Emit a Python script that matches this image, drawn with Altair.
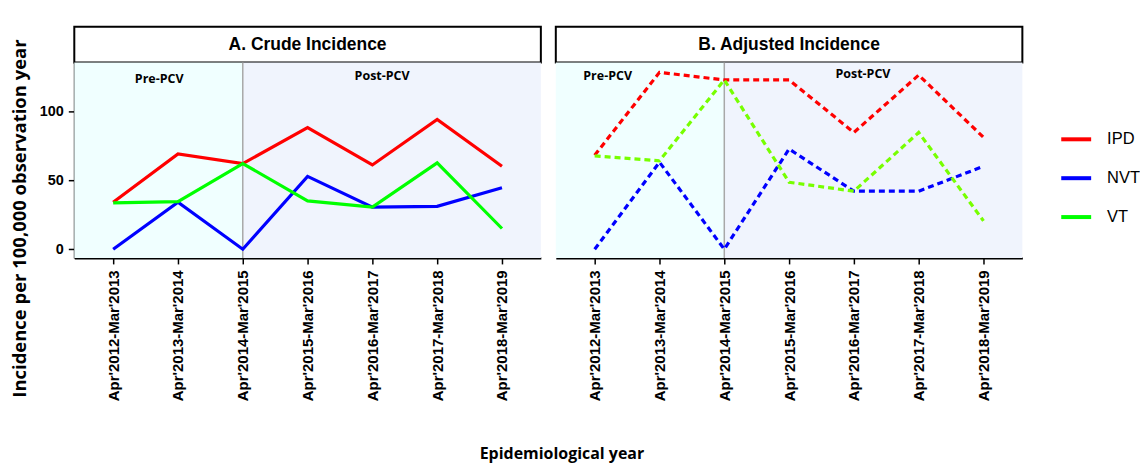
import json
import altair as alt
import pandas as pd

# ---------------- data ----------------
years = ["Apr'2012-Mar'2013", "Apr'2013-Mar'2014", "Apr'2014-Mar'2015",
         "Apr'2015-Mar'2016", "Apr'2016-Mar'2017", "Apr'2017-Mar'2018",
         "Apr'2018-Mar'2019"]
series = ["IPD", "NVT", "VT"]

crude_ipd = [34, 69, 62, 88, 61, 94, 60]
crude_nvt = [0, 34, 0, 52.7, 30.5, 31, 44.5]
crude_vt = [33.5, 34.5, 62, 35, 30.5, 62.5, 15]

adj_ipd = [68, 128, 122.5, 122.5, 84.5, 126, 81]
adj_nvt = [0, 63, 0, 72.5, 42, 42, 60]
adj_vt = [67.5, 64, 122.5, 48.5, 42, 84.5, 20.5]

phase_names = ["Pre-PCV", "Post-PCV"]
phase_start = [-0.6, 2]
phase_end = [2, 6.6]
phase_colors = ["#F0FFFF", "#F0F4FD"]
pcv_intro_index = 2

crude_label_x = [0.71, 4.15]
crude_label_y = [123, 125.3]
adj_label_x = [0.2, 4.14]
adj_label_y = [125.3, 126.5]

solid_colors = ["#FF0000", "#0000FF", "#00FF00"]
dashed_colors = ["#FF0000", "#0000FF", "#77FF00"]

X_DOMAIN = [-0.6, 6.6]
Y_DOMAIN = [-6.3, 135.1]
W, H = 468, 196

label_expr = json.dumps(years) + "[datum.value]"


def line_frame(values):
    rows = []
    for s, vals in zip(series, values):
        for i, v in enumerate(vals):
            rows.append({"idx": i, "year": years[i], "series": s, "value": v})
    return pd.DataFrame(rows)


def panel(title, values, dashed, lab_x, lab_y, first):
    x_scale = alt.Scale(domain=X_DOMAIN, nice=False, zero=False)
    y_scale = alt.Scale(domain=Y_DOMAIN, nice=False, zero=False)
    x_axis = alt.Axis(values=list(range(len(years))), labelExpr=label_expr,
                      labelAngle=270, title=None, grid=False,
                      labelFont="Liberation Sans", labelFontSize=15,
                      labelFontWeight="bold", labelColor="black",
                      domainColor="black", domainWidth=2, tickColor="black",
                      tickSize=6, tickWidth=1.5, labelPadding=6)
    if first:
        y_axis = alt.Axis(values=[0, 50, 100], grid=False,
                          title="Incidence per 100,000 observation year",
                          titleFont="Open Sans", titleFontSize=18.5,
                          titleFontWeight="bold", titleColor="black",
                          titleY=156,
                          labelFont="Liberation Sans", labelFontSize=14.5,
                          labelFontWeight="bold", labelColor="black",
                          domainColor="black", domainWidth=2,
                          tickColor="black", tickSize=6, tickWidth=1.5,
                          labelPadding=5, titlePadding=10)
    else:
        y_axis = None

    bg_df = pd.DataFrame({"start": phase_start, "end": phase_end,
                          "phase": phase_names,
                          "ymin": [Y_DOMAIN[0]] * 2, "ymax": [Y_DOMAIN[1]] * 2})
    bg = alt.Chart(bg_df).mark_rect().encode(
        x=alt.X("start:Q", scale=x_scale, axis=x_axis),
        x2="end:Q",
        y=alt.Y("ymin:Q", scale=y_scale, axis=y_axis),
        y2="ymax:Q",
        fill=alt.Fill("phase:N", scale=alt.Scale(domain=phase_names, range=phase_colors), legend=None),
    )
    rule = alt.Chart(pd.DataFrame({"x": [pcv_intro_index]})).mark_rule(
        color="#A8A8A8", strokeWidth=1.5).encode(x=alt.X("x:Q", scale=x_scale))

    ldf = line_frame(values)
    if dashed:
        lines = alt.Chart(ldf).mark_line(strokeWidth=3.2, strokeDash=[6, 4]).encode(
            x=alt.X("idx:Q", scale=x_scale),
            y=alt.Y("value:Q", scale=y_scale),
            stroke=alt.Stroke("series:N", scale=alt.Scale(domain=series, range=dashed_colors), legend=None),
            order="idx:Q",
        )
    else:
        lines = alt.Chart(ldf).mark_line(strokeWidth=3.2).encode(
            x=alt.X("idx:Q", scale=x_scale),
            y=alt.Y("value:Q", scale=y_scale),
            color=alt.Color("series:N", scale=alt.Scale(domain=series, range=solid_colors),
                            legend=alt.Legend(title=None, orient="none", legendX=988, legendY=96,
                                              symbolType="stroke", symbolSize=900,
                                              symbolStrokeWidth=4, labelFont="Liberation Sans",
                                              labelFontSize=16.5, labelColor="black",
                                              labelOffset=14, rowPadding=13)),
            order="idx:Q",
        )
    tdf = pd.DataFrame({"x": lab_x, "y": lab_y, "t": phase_names})
    texts = alt.Chart(tdf).mark_text(font="Open Sans", fontWeight="bold",
                                     fontSize=12.5, color="black").encode(
        x=alt.X("x:Q", scale=x_scale), y=alt.Y("y:Q", scale=y_scale), text="t:N")

    plot = alt.layer(bg, rule, lines, texts).properties(width=W, height=H)

    strip = alt.Chart(pd.DataFrame({"t": [title]})).mark_text(
        font="Liberation Sans", fontWeight="bold", fontSize=17.5, color="black"
    ).encode(text="t:N").properties(
        width=W, height=36,
        view=alt.ViewBackground(fill="white", stroke="black", strokeWidth=2))
    return alt.vconcat(strip, plot, spacing=0, bounds="flush")


pa = panel("A. Crude Incidence", [crude_ipd, crude_nvt, crude_vt], False,
           crude_label_x, crude_label_y, True)
pb = panel("B. Adjusted Incidence", [adj_ipd, adj_nvt, adj_vt], True,
           adj_label_x, adj_label_y, False)

chart = alt.hconcat(pa, pb, spacing=13).properties(
    title=alt.TitleParams("Epidemiological year", orient="bottom", anchor="middle",
                          font="Open Sans", fontSize=16, fontWeight="bold",
                          color="black", offset=44.5, dx=-13),
    padding={"left": 1.5, "top": 17, "right": 0, "bottom": 5},
).configure_view(stroke="transparent")

chart.save("out.html", embed_options={"renderer": "svg", "actions": False})
